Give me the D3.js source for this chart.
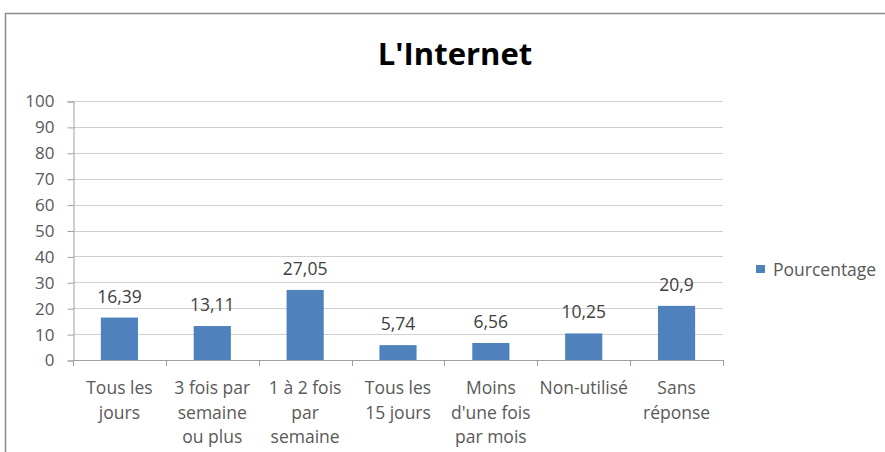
<!DOCTYPE html>
<html><head><meta charset="utf-8">
<script src="https://cdn.jsdelivr.net/npm/d3@7"></script>
<style>body{margin:0;background:#fff}svg{display:block}</style>
</head><body>
<script>
const categories = [["Tous les","jours"],["3 fois par","semaine","ou plus"],["1 à 2 fois","par","semaine"],["Tous les","15 jours"],["Moins","d'une fois","par mois"],["Non-utilisé"],["Sans","réponse"]];
const values = [16.39, 13.11, 27.05, 5.74, 6.56, 10.25, 20.9];
const valueLabels = ["16,39","13,11","27,05","5,74","6,56","10,25","20,9"];
const yTicks = [0,10,20,30,40,50,60,70,80,90,100];
const seriesName = "Pourcentage";
const title = "L'Internet";

const W = 885, H = 452;
const font = "'Open Sans', sans-serif";
const svg = d3.select("body").append("svg").attr("width", W).attr("height", H);
svg.append("rect").attr("width", W).attr("height", H).attr("fill", "#fff");
// frame
svg.append("path").attr("d", "M5.5,452 V13.5 H885").attr("fill", "none").attr("stroke", "#8c8c8c").attr("stroke-width", 1.5);

const x = d3.scaleBand().domain(d3.range(categories.length)).range([73, 723]).paddingInner(0.6).paddingOuter(0.3);
const y = d3.scaleLinear().domain([0, 100]).range([360, 101]);

svg.append("text").attr("x", 455).attr("y", 65).attr("text-anchor", "middle")
  .attr("font-family", font).attr("font-weight", "bold").attr("font-size", 31).attr("fill", "#000").text(title);

// gridlines
svg.append("g").selectAll("line").data(yTicks.filter(d => d > 0)).join("line")
  .attr("x1", 73).attr("x2", 723).attr("y1", d => Math.round(y(d)) + 0.5).attr("y2", d => Math.round(y(d)) + 0.5)
  .attr("stroke", "#d0d0d0");

// y axis
const yAxis = svg.append("g").attr("transform", "translate(73.5,0.5)")
  .call(d3.axisLeft(y).tickValues(yTicks).tickSize(6).tickPadding(13).tickFormat(d => d));
yAxis.select(".domain").attr("stroke", "#a0a0a0");
yAxis.selectAll(".tick line").attr("stroke", "#a0a0a0");
yAxis.selectAll("text").attr("font-family", font).attr("font-size", 17).attr("fill", "#595959");

// bars
svg.append("g").selectAll("rect").data(values).join("rect")
  .attr("x", (d, i) => x(i)).attr("width", x.bandwidth())
  .attr("y", d => y(d)).attr("height", d => y(0) - y(d)).attr("fill", "#4F81BD");

// value labels
svg.append("g").selectAll("text").data(values).join("text")
  .attr("x", (d, i) => x(i) + x.bandwidth() / 2).attr("y", d => y(d) - 15)
  .attr("text-anchor", "middle").attr("font-family", font).attr("font-size", 17.5).attr("fill", "#404040")
  .text((d, i) => valueLabels[i]);

// x axis
const xb = d3.scaleBand().domain(d3.range(categories.length)).range([73, 723]);
const xg = svg.append("g");
xg.append("line").attr("x1", 73).attr("x2", 723).attr("y1", 360.5).attr("y2", 360.5).attr("stroke", "#a0a0a0");
xg.selectAll("line.t").data(d3.range(categories.length + 1)).join("line").attr("class", "t")
  .attr("x1", d => Math.round(73 + d * xb.step()) + 0.5).attr("x2", d => Math.round(73 + d * xb.step()) + 0.5)
  .attr("y1", 360).attr("y2", 366).attr("stroke", "#a0a0a0");
categories.forEach((lines, i) => {
  const t = xg.append("text").attr("text-anchor", "middle").attr("font-family", font).attr("font-size", 17.5).attr("fill", "#595959");
  lines.forEach((l, j) => t.append("tspan").attr("x", xb(i) + xb.bandwidth() / 2).attr("y", 394 + j * 24.5).text(l));
});

// legend
svg.append("rect").attr("x", 756).attr("y", 265).attr("width", 9).attr("height", 8).attr("fill", "#4F81BD");
svg.append("text").attr("x", 773).attr("y", 276).attr("font-family", font).attr("font-size", 17.5).attr("fill", "#595959").text(seriesName);
</script>
</body></html>
